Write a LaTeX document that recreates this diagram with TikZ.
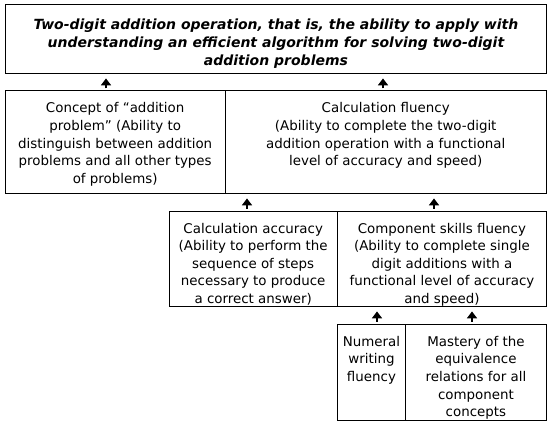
\documentclass[tikz,border=0pt]{standalone}
\usepackage{fontspec}
\setmainfont{DejaVu Sans}
\usetikzlibrary{arrows.meta}
\begin{document}
\begin{tikzpicture}[x=1pt,y=-1pt,
  cell/.style={draw, line width=0.9pt, inner sep=0pt, anchor=north west},
  txt/.style={anchor=north, align=center, inner sep=0pt, font=\fontsize{13.4}{17.6}\selectfont},
  toptxt/.style={anchor=north, align=center, inner sep=0pt, font=\fontsize{14}{18}\selectfont\bfseries\itshape},
  uparrow/.style={-{Triangle[width=10pt,length=7pt]}, line width=2.6pt, shorten <=2pt, shorten >=4.5pt}
]
\useasboundingbox (0,0) rectangle (550,425);
% cells
\node[cell, minimum width=541pt, minimum height=68.5pt] (top) at (5,4.5) {};
\node[cell, minimum width=219.5pt, minimum height=102.5pt] (r2a) at (5,90.5) {};
\node[cell, minimum width=321.5pt, minimum height=102.5pt] (r2b) at (224.5,90.5) {};
\node[cell, minimum width=168.5pt, minimum height=95.3pt] (r3a) at (168.5,210.7) {};
\node[cell, minimum width=209pt, minimum height=95.3pt] (r3b) at (337,210.7) {};
\node[cell, minimum width=68pt, minimum height=96pt] (r4a) at (337,324) {};
\node[cell, minimum width=141pt, minimum height=96pt] (r4b) at (405,324) {};
% texts
\node[toptxt, yshift=-14pt] (ttop) at (top.north) {Two-digit addition operation, that is, the ability to apply with\\ understanding an efficient algorithm for solving two-digit\\ addition problems};
\node[txt, yshift=-12pt] (t2a) at (r2a.north) {Concept of “addition\\ problem” (Ability to\\ distinguish between addition\\ problems and all other types\\ of problems)};
\node[txt, yshift=-12pt] (t2b) at (r2b.north) {Calculation fluency\\ (Ability to complete the two-digit\\ addition operation with a functional\\ level of accuracy and speed)};
\node[txt, yshift=-12pt] (t3a) at (r3a.north) {Calculation accuracy\\ (Ability to perform the\\ sequence of steps\\ necessary to produce\\ a correct answer)};
\node[txt, yshift=-12pt] (t3b) at (r3b.north) {Component skills fluency\\ (Ability to complete single\\ digit additions with a\\ functional level of accuracy\\ and speed)};
\node[txt, yshift=-12pt] (t4a) at (r4a.north) {Numeral\\ writing\\ fluency};
\node[txt, yshift=-12pt] (t4b) at (r4b.north) {Mastery of the\\ equivalence\\ relations for all\\ component\\ concepts};
% arrows
\coordinate (x1) at (106,0);
\coordinate (x2) at (383,0);
\coordinate (x3) at (247,0);
\coordinate (x4) at (434,0);
\coordinate (x5) at (377,0);
\coordinate (x6) at (472,0);
\draw[uparrow] (x1 |- r2a.north) -- (x1 |- top.south);
\draw[uparrow] (x2 |- r2b.north) -- (x2 |- top.south);
\draw[uparrow] (x3 |- r3a.north) -- (x3 |- r2b.south);
\draw[uparrow] (x4 |- r3b.north) -- (x4 |- r2b.south);
\draw[uparrow] (x5 |- r4a.north) -- (x5 |- r3b.south);
\draw[uparrow] (x6 |- r4b.north) -- (x6 |- r3b.south);
\end{tikzpicture}
\end{document}
